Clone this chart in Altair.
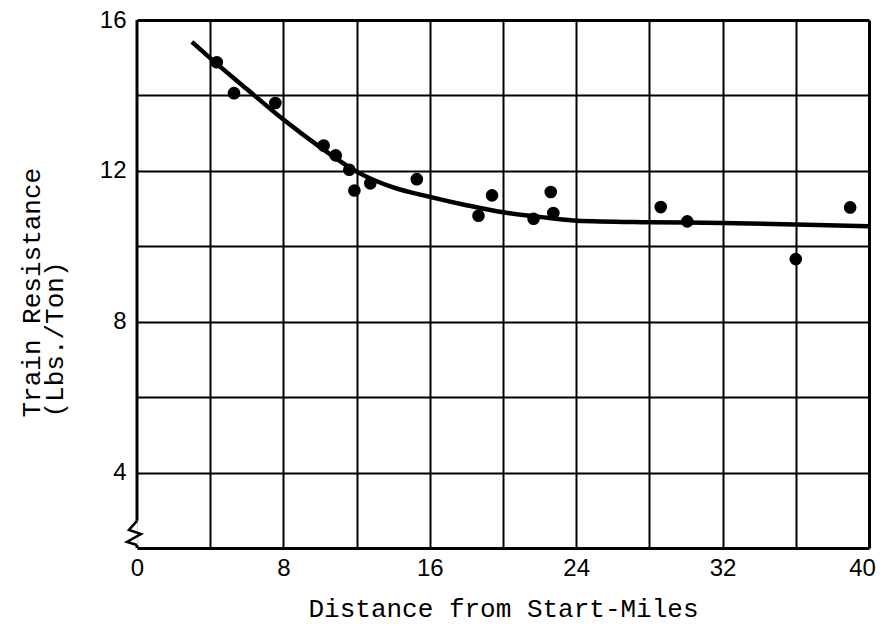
import altair as alt
import pandas as pd

# Observed data points (distance in miles, resistance in lbs/ton)
pt_x = [4.36, 5.3, 7.56, 10.2, 10.86, 11.6, 11.88, 12.75, 15.29, 18.66, 19.4,
        21.67, 22.61, 22.75, 28.62, 30.07, 36.0, 38.97]
pt_y = [14.88, 14.06, 13.8, 12.67, 12.41, 12.03, 11.48, 11.67, 11.78, 10.81, 11.35,
        10.73, 11.44, 10.88, 11.04, 10.66, 9.66, 11.03]

# Fitted curve
cv_x = [3.0, 4, 6, 8, 10, 12, 14, 16, 18, 20, 22, 24, 28, 32, 36, 40]
cv_y = [15.42, 14.99, 14.17, 13.36, 12.63, 11.98, 11.56, 11.31, 11.09, 10.9, 10.78,
        10.68, 10.64, 10.62, 10.58, 10.53]

x_ticks = [0, 4, 8, 12, 16, 20, 24, 28, 32, 36, 40]
y_ticks = [2, 4, 6, 8, 10, 12, 14, 16]

# Left border with axis-break symbol
border_y1 = [2.0, 2.72]
border_y2 = [2.08, 16.0]
zig_x = [0.0, -0.44, 0.22, -0.55, 0.0]
zig_y = [2.72, 2.48, 2.37, 2.16, 2.08]

pts = pd.DataFrame({"x": pt_x, "y": pt_y})
curve = pd.DataFrame({"x": cv_x, "y": cv_y})
border = pd.DataFrame({"x": [0, 0], "y": border_y1, "y2": border_y2})
zig = pd.DataFrame({"x": zig_x, "y": zig_y, "o": list(range(len(zig_x)))})

MONO = "Liberation Mono"
LAB = "Liberation Sans"

xscale = alt.Scale(domain=[0, 40], nice=False, zero=False)
yscale = alt.Scale(domain=[2, 16], nice=False, zero=False)

xaxis = alt.Axis(
    values=x_ticks,
    labelExpr="datum.value % 8 == 0 ? datum.label : ''",
    title="Distance from Start-Miles",
    titleFont=MONO, titleFontSize=26, titleFontWeight="normal", titleColor="black",
    titleBaseline="alphabetic", titleY=68,
    labelFont=LAB, labelFontSize=24, labelColor="black", labelPadding=8,
    labelOffset={"condition": {"test": "datum.value == 40", "value": -7}, "value": 0},
    ticks=False, domain=False,
    grid=True, gridColor="black",
    gridWidth={"condition": {"test": "datum.value == 40", "value": 3}, "value": 2},
    gridOpacity={"condition": {"test": "datum.value == 0", "value": 0}, "value": 1},
    labelFlush=False,
)
yaxis = alt.Axis(
    values=y_ticks,
    labelExpr="datum.value % 4 == 0 ? datum.label : ''",
    title=["Train Resistance", "(Lbs./Ton)"],
    titleFont=MONO, titleFontSize=26, titleFontWeight="normal", titleColor="black",
    titleAngle=270, titleAlign="left", titleBaseline="alphabetic",
    titleX=-98, titleY=397, titleLineHeight=23,
    labelFont=LAB, labelFontSize=24, labelColor="black", labelPadding=11,
    ticks=False, domain=False,
    grid=True, gridColor="black",
    gridWidth={"condition": {"test": "datum.value == 2 || datum.value == 16", "value": 3}, "value": 2},
)

points = alt.Chart(pts).mark_circle(size=160, color="black", opacity=1).encode(
    x=alt.X("x:Q", scale=xscale, axis=xaxis),
    y=alt.Y("y:Q", scale=yscale, axis=yaxis),
)
line = alt.Chart(curve).mark_line(color="black", strokeWidth=4.5, interpolate="monotone").encode(
    x=alt.X("x:Q", scale=xscale),
    y=alt.Y("y:Q", scale=yscale),
)
left = alt.Chart(border).mark_rule(color="black", strokeWidth=3).encode(
    x=alt.X("x:Q", scale=xscale),
    y=alt.Y("y:Q", scale=yscale),
    y2="y2:Q",
)
zz = alt.Chart(zig).mark_line(color="black", strokeWidth=2.5, strokeJoin="miter").encode(
    x=alt.X("x:Q", scale=xscale),
    y=alt.Y("y:Q", scale=yscale),
    order="o:Q",
)

chart = alt.layer(left, zz, line, points).properties(
    width=732, height=528,
    autosize=alt.AutoSizeParams(type="none"),
    padding={"left": 129, "top": 12, "right": 7, "bottom": 74},
).configure_view(stroke=None).configure(background="white")

chart.save("out.html", embed_options={"renderer": "svg", "actions": False})
